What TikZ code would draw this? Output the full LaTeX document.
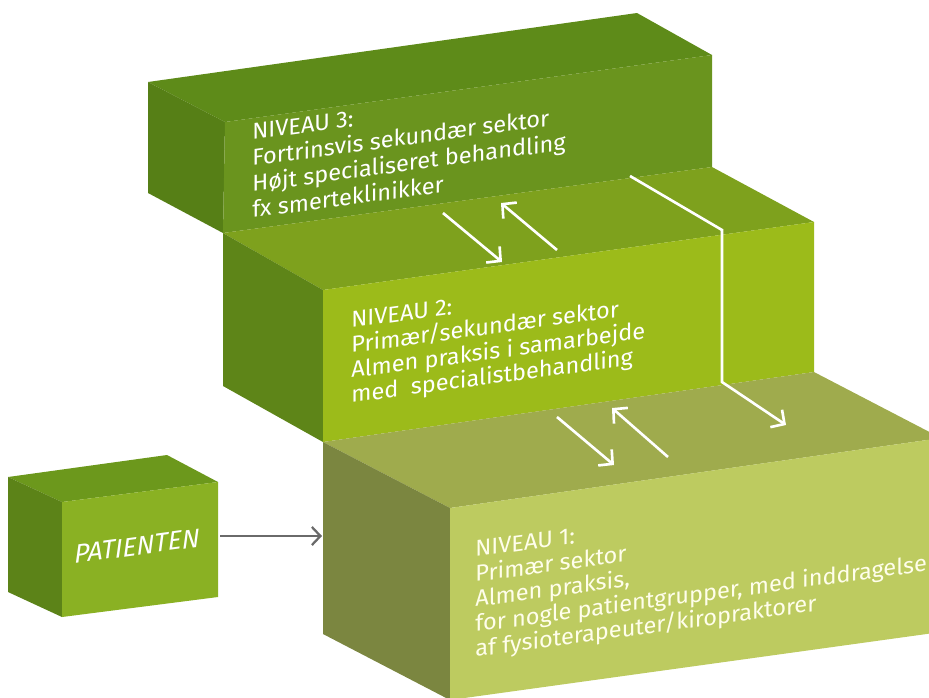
\documentclass[tikz,border=0pt]{standalone}
\usepackage{fontspec}
\setmainfont{Fira Sans}
\newfontfamily\lvlfont[FakeStretch=1.03]{Fira Sans}
\usetikzlibrary{arrows.meta}
\definecolor{mythreetop}{HTML}{5E8B19}
\definecolor{mythreefront}{HTML}{6A941E}
\definecolor{mythreeside}{HTML}{567F16}
\definecolor{mytwotop}{HTML}{7EA11D}
\definecolor{mytwofront}{HTML}{9CBB1A}
\definecolor{mytwoside}{HTML}{5E8518}
\definecolor{myonetop}{HTML}{9FAB4D}
\definecolor{myonefront}{HTML}{BDCB60}
\definecolor{myoneside}{HTML}{7B8640}
\definecolor{mypattop}{HTML}{6C981C}
\definecolor{mypatfront}{HTML}{8AB123}
\definecolor{mypatside}{HTML}{5C8318}
\definecolor{mygrey}{HTML}{6A6A6A}

\begin{document}
\begin{tikzpicture}[x=0.02cm,y=-0.02cm,
  lbl/.style={anchor=base west,inner sep=0pt,yslant=0.135,text=white,
              font=\lvlfont\fontsize{13}{14.5}\selectfont},
  arr/.style={white,line width=1.5pt,
              -{Straight Barb[length=0.2cm,width=0.42cm,line width=1.5pt]}},
  parr/.style={mygrey,line width=1.3pt,
               -{Straight Barb[length=0.17cm,width=0.36cm,line width=1.3pt]}}]
\useasboundingbox (0,0) rectangle (929,697);
% niveau 3
\fill[mythreetop]   (148,82) -- (637,13) -- (712,55) -- (225,122) -- cycle;
\fill[mythreeside]  (148,82) -- (225,122) -- (223,233) -- (148,193) -- cycle;
\fill[mythreefront] (225,122) -- (712,55) -- (712,167) -- (223,233) -- cycle;
% niveau 2
\fill[mytwotop]   (223,233) -- (712,167) -- (814,222) -- (323,290) -- cycle;
\fill[mytwoside]  (223,233) -- (323,290) -- (323,442) -- (223,386) -- cycle;
\fill[mytwofront] (323,290) -- (814,222) -- (814,372) -- (323,442) -- cycle;
% niveau 1
\fill[myonetop]   (323,442) -- (814,372) -- (941,438) -- (450,508) -- cycle;
\fill[myoneside]  (323,442) -- (450,508) -- (450,700) -- (323,634) -- cycle;
\fill[myonefront] (450,508) -- (941,438) -- (941,632) -- (450,700) -- cycle;
% patienten
\fill[mypattop]   (8,477) -- (167,455) -- (218,482) -- (62,502) -- cycle;
\fill[mypatside]  (8,477) -- (62,502) -- (62,617) -- (8,592) -- cycle;
\fill[mypatfront] (62,502) -- (218,482) -- (218,597) -- (62,617) -- cycle;

% labels, one node per line
\foreach \t [count=\i from 0] in {NIVEAU 3:,Fortrinsvis sekundær sektor,
    Højt specialiseret behandling,fx smerteklinikker}
  \node[lbl] (n3-\i) at (252,140+26*\i) {\t};
\foreach \t [count=\i from 0] in {NIVEAU 2:,Primær/sekundær sektor,
    Almen praksis i samarbejde,med~ specialistbehandling}
  \node[lbl] (n2-\i) at (351,328+25*\i) {\t};
\foreach \t [count=\i from 0] in {NIVEAU 1:,Primær sektor,{Almen praksis,},
    {for nogle patientgrupper, med inddragelse},af fysioterapeuter/kiropraktorer}
  \node[lbl,text=white!92!yellow] (n1-\i) at (475,557+25*\i) {\t};
\node[yslant=0.135,text=white,font=\itshape\fontsize{15}{15}\selectfont] (pat) at (137,546) {PATIENTEN};

% arrows
\coordinate (pR) at (220,536);
\coordinate (oneL) at (322,536);
\draw[parr] (pR) -- (oneL);
\coordinate (a1) at (443,213); \coordinate (a2) at (502,262);
\coordinate (b1) at (557,250); \coordinate (b2) at (501,203);
\draw[arr] (a1) -- (a2);
\draw[arr] (b1) -- (b2);
\coordinate (c1) at (557,417); \coordinate (c2) at (614,465);
\coordinate (d1) at (668,457); \coordinate (d2) at (612,408);
\draw[arr] (c1) -- (c2);
\draw[arr] (d1) -- (d2);
\coordinate (e1) at (630,176); \coordinate (e2) at (722,230);
\coordinate (e3) at (722,382); \coordinate (e4) at (786,425);
\draw[arr] (e1) -- (e2) -- (e3) -- (e4);
\end{tikzpicture}
\end{document}
